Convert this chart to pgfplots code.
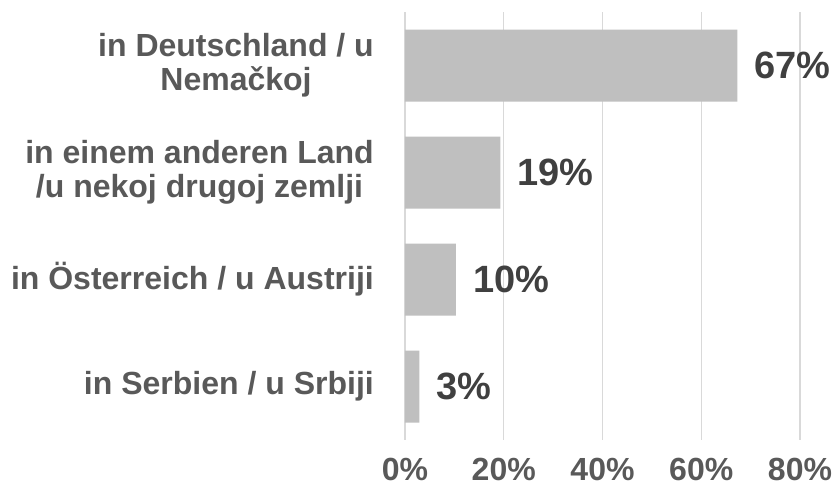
\documentclass[border=0pt]{standalone}
\usepackage{fontspec}
\setmainfont{Liberation Sans}
\usepackage{pgfplots}
\pgfplotsset{compat=1.18}
\definecolor{barfill}{HTML}{BFBFBF}
\definecolor{gridgray}{HTML}{D9D9D9}
\definecolor{labelgray}{HTML}{595959}
\definecolor{valgray}{HTML}{404040}

\begin{document}
\begin{tikzpicture}
  % fixed frame: 834 x 489 bp, axis box at (0,0)-(395,428)
  \useasboundingbox (-405bp,-49bp) rectangle (429bp,440bp);
  \begin{axis}[
      at={(0,0)}, anchor=south west,
      width=395bp, height=428bp, scale only axis,
      xbar, bar width=72bp,
      xmin=0, xmax=80, ymin=-0.5, ymax=3.5, y dir=reverse,
      xtick={0,20,40,60,80},
      xticklabel={\pgfmathprintnumber{\tick}\%},
      ytick={0,1,2,3},
      yticklabels={{in Deutschland / u\\Nemačkoj},
                   {in einem anderen Land\\/u nekoj drugoj zemlji},
                   {in Österreich / u Austriji},
                   {in Serbien / u Srbiji}},
      axis line style={draw=none},
      major tick length=0pt,
      xmajorgrids, grid style={draw=gridgray, line width=1.3bp},
      /pgf/number format/assume math mode=true,
      xticklabel style={font=\fontsize{32bp}{34bp}\selectfont\bfseries,
        text=labelgray, inner sep=0pt, anchor=north, yshift=-18bp},
      yticklabel style={font=\fontsize{32bp}{34bp}\selectfont\bfseries,
        text=labelgray, align=center, inner sep=0pt, anchor=east, xshift=-31bp},
      point meta=explicit symbolic,
      nodes near coords,
      every node near coord/.append style={font=\fontsize{38bp}{40bp}\selectfont\bfseries,
        text=valgray, anchor=west, inner sep=0pt, xshift=17bp},
    ]
    \addplot[fill=barfill, draw=none] coordinates {
      (67.3,0) [67\%]
      (19.3,1) [19\%]
      (10.3,2) [10\%]
      (2.9,3)  [3\%]
    };
  \end{axis}
\end{tikzpicture}
\end{document}
